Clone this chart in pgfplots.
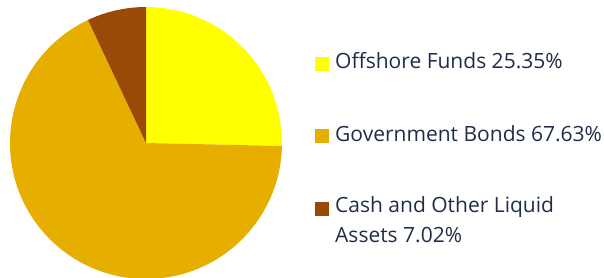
\documentclass[border=0pt]{standalone}
\usepackage{pgfplots}
\pgfplotsset{compat=1.18}
\usepackage{pgfplotstable}
\usepackage{fontspec}
\setmainfont{Open Sans}
\definecolor{cOff}{HTML}{FFFF00}
\definecolor{cGov}{HTML}{E6AF00}
\definecolor{cCash}{HTML}{9A4A06}
\definecolor{txt}{HTML}{1F2D4A}
\pgfplotstableread{
label share
Offshore 25.35
Government 67.63
Cash 7.02
}\piedata
\begin{document}
\begin{tikzpicture}
\begin{axis}[
  width=604bp, height=278bp, scale only axis,
  xmin=0, xmax=604, ymin=0, ymax=278,
  hide axis, clip=true,
]
\pgfplotstablegetelem{0}{share}\of\piedata \let\sA\pgfplotsretval
\pgfplotstablegetelem{1}{share}\of\piedata \let\sB\pgfplotsretval
\pgfplotstablegetelem{2}{share}\of\piedata \let\sC\pgfplotsretval
\pgfmathsetmacro\aA{90}
\pgfmathsetmacro\aB{90-3.6*\sA}
\pgfmathsetmacro\aC{\aB-3.6*\sB}
\pgfmathsetmacro\aD{\aC-3.6*\sC}
\fill[cOff] (axis cs:146,135) -- ([shift={(\aA:136bp)}]axis cs:146,135) arc[start angle=\aA, end angle=\aB, radius=136bp] -- cycle;
\fill[cGov] (axis cs:146,135) -- ([shift={(\aB:136bp)}]axis cs:146,135) arc[start angle=\aB, end angle=\aC, radius=136bp] -- cycle;
\fill[cCash] (axis cs:146,135) -- ([shift={(\aC:136bp)}]axis cs:146,135) arc[start angle=\aC, end angle=\aD, radius=136bp] -- cycle;
% legend
\fill[cOff] (axis cs:315,207) rectangle (axis cs:329,221);
\fill[cGov] (axis cs:315,135) rectangle (axis cs:329,149);
\fill[cCash] (axis cs:315,62) rectangle (axis cs:329,76);
\begin{scope}[every node/.style={anchor=base west, inner sep=0pt, text=txt, font=\fontsize{21bp}{25bp}\selectfont}]
\node at (axis cs:335,209) {Offshore Funds 25.35\%};
\node at (axis cs:335,136) {Government Bonds 67.63\%};
\node at (axis cs:335,65) {Cash and Other Liquid};
\node at (axis cs:335,35) {Assets 7.02\%};
\end{scope}
\end{axis}
\pgfresetboundingbox
\path (0,0) rectangle (604bp,278bp);
\end{tikzpicture}
\end{document}
